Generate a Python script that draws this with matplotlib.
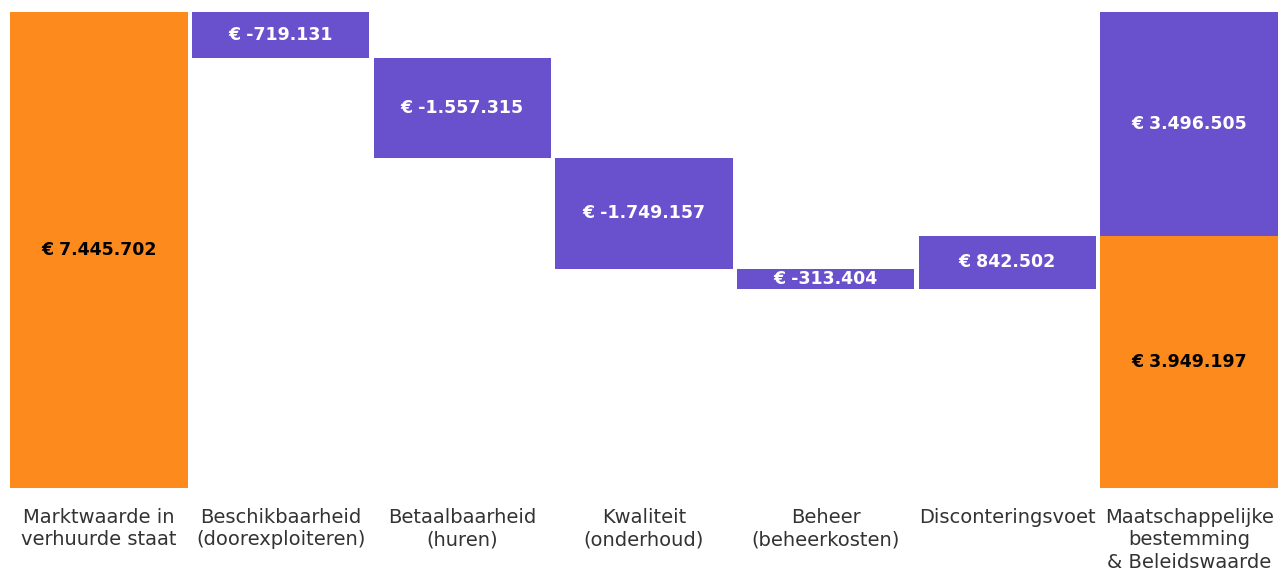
import matplotlib
matplotlib.use("Agg")
import matplotlib.pyplot as plt

categories = ["Marktwaarde in\nverhuurde staat", "Beschikbaarheid\n(doorexploiteren)",
              "Betaalbaarheid\n(huren)", "Kwaliteit\n(onderhoud)", "Beheer\n(beheerkosten)",
              "Disconteringsvoet", "Maatschappelijke\nbestemming\n& Beleidswaarde"]
start_value = 7445702
changes = [-719131, -1557315, -1749157, -313404, 842502]
final_base = 3949197
final_top = 3496505

ORANGE = "#FC8A1C"
PURPLE = "#6951CD"

def fmt(v):
    s = f"{abs(v):,}".replace(",", ".")
    return ("€ -" if v < 0 else "€ ") + s

fig = plt.figure(figsize=(12.86, 5.73), dpi=100)
ax = fig.add_axes([8/1286, 1 - 488/573, 1272/1286, 476/573])
w = 0.976
lab_kw = dict(ha="center", va="center", fontsize=12.5, fontweight="bold", family="DejaVu Sans")

# first bar
ax.bar(0, start_value, width=w, color=ORANGE)
ax.text(0, start_value / 2, fmt(start_value), color="black", **lab_kw)

running = start_value
for i, c in enumerate(changes, start=1):
    new = running + c
    lo, hi = min(running, new), max(running, new)
    ax.bar(i, hi - lo, bottom=lo, width=w, color=PURPLE)
    ax.text(i, (lo + hi) / 2, fmt(c), color="white", **lab_kw)
    running = new

n = len(categories) - 1
ax.bar(n, final_base, width=w, color=ORANGE)
ax.bar(n, final_top, bottom=final_base, width=w, color=PURPLE)
ax.text(n, final_base / 2, fmt(final_base), color="black", **lab_kw)
ax.text(n, final_base + final_top / 2, fmt(final_top), color="white", **lab_kw)

ax.set_xlim(-0.5, len(categories) - 0.5)
ax.set_ylim(0, start_value)
ax.set_xticks(range(len(categories)))
ax.set_xticklabels(categories, fontsize=14, color="#333333", linespacing=1.22,
                   va="top", ha="center")
ax.tick_params(axis="x", length=0, pad=14.5)
ax.set_yticks([])
for s in ax.spines.values():
    s.set_visible(False)

fig.savefig("out.png", dpi=100, facecolor="white")
